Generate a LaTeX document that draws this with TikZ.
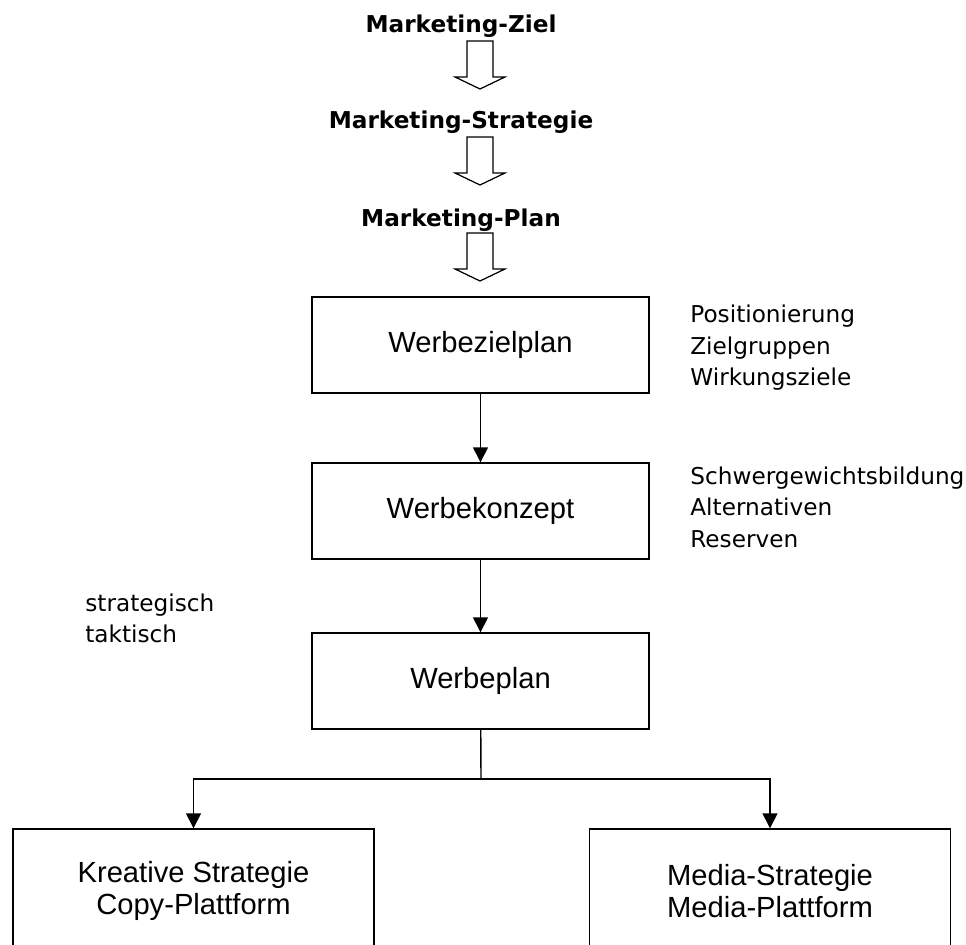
\documentclass[tikz,border=0pt]{standalone}
\usepackage{fontspec}
\setmainfont{Liberation Sans}
\newfontfamily\dejavu{DejaVu Sans}
\usetikzlibrary{arrows.meta}

\begin{document}
\begin{tikzpicture}[x=0.02cm, y=-0.02cm,
	kasten/.style={draw, line width=0.8pt, minimum width=6.74cm, minimum height=1.92cm, font=\fontsize{16.6}{18.7}\selectfont},
	unterkasten/.style={kasten, minimum width=7.22cm, minimum height=2.48cm, align=center},
	titel/.style={anchor=base, inner sep=0pt, font=\dejavu\bfseries\fontsize{13.2}{16}\selectfont},
	notiz/.style={anchor=base west, inner sep=0pt, font=\dejavu\fontsize{13.2}{16}\selectfont},
	pfeil/.style={line width=0.8pt, -{Triangle[width=8.5pt,length=8.5pt]}},
	hohlpfeil/.pic={\draw[line width=0.7pt] (-13,0) -- (-13,36) -- (-25,36) -- (0,48) -- (25,36) -- (13,36) -- (13,0) -- cycle;}]
	\useasboundingbox (0,0) rectangle (966,945);
	\clip (0,0) rectangle (966,945);

	\node[titel] (ziel) at (461,33) {Marketing-Ziel};
	\node[titel] (strategie) at (461,129) {Marketing-Strategie};
	\node[titel] (plan) at (461,227) {Marketing-Plan};
	\pic at (480,41) {hohlpfeil};
	\pic at (480,137) {hohlpfeil};
	\pic at (480,233) {hohlpfeil};

	\node[kasten] (wzp) at (480.5,345) {Werbezielplan};
	\node[kasten] (wk) at (480.5,511) {Werbekonzept};
	\node[kasten] (wp) at (480.5,681) {Werbeplan};
	\node[unterkasten] (kreativ) at (193.5,891) {Kreative Strategie\\Copy-Plattform};
	\node[unterkasten] (media) at (770,891) {Media-Strategie\\Media-Plattform};

	\foreach \t [count=\i from 0] in {Positionierung,Zielgruppen,Wirkungsziele}
		\node[notiz] (ziele\i) at (690,323+31.5*\i) {\t};
	\foreach \t [count=\i from 0] in {Schwergewichtsbildung,Alternativen,Reserven}
		\node[notiz] (konzept\i) at (690,484+31.5*\i) {\t};
	\node[notiz] (strat) at (85,611) {strategisch};
	\node[notiz] (takt) at (85,642) {taktisch};

	\coordinate (verzweigung) at (481,779);
	\draw[pfeil] (wzp) -- (wk);
	\draw[pfeil] (wk) -- (wp);
	\draw[line width=0.8pt] (wp) -- (verzweigung);
	\draw[pfeil] (verzweigung) -| (kreativ.north);
	\draw[pfeil] (verzweigung) -| (media.north);
\end{tikzpicture}
\end{document}
